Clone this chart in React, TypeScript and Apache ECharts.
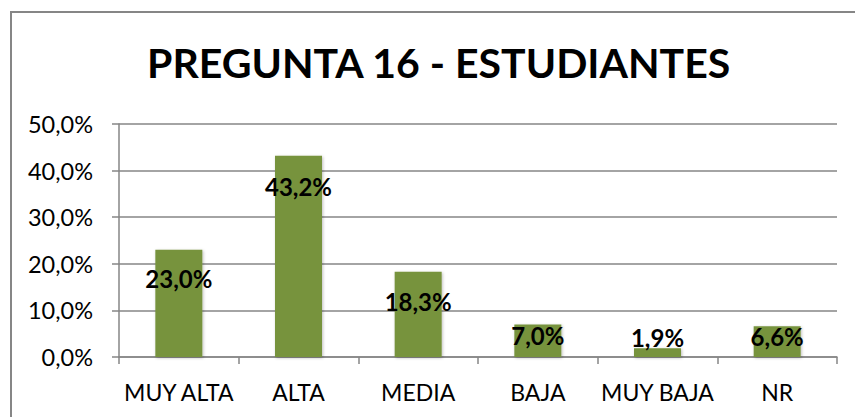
import React, { useEffect, useRef } from "react";
import * as echarts from "echarts";

const title = "PREGUNTA 16 - ESTUDIANTES";
const categories = ["MUY ALTA", "ALTA", "MEDIA", "BAJA", "MUY BAJA", "NR"];
const values = [23.0, 43.2, 18.3, 7.0, 1.9, 6.6];
// vertical placement of each data label relative to its bar's top (px)
const labelOffsets = [29, 31, 29.5, 11.5, -10.5, 10.5];

const FONT = "Lato, 'Open Sans', 'Noto Sans', sans-serif";
const fmt = (v: number) => v.toFixed(1).replace(".", ",") + "%";

export default function App() {
  const ref = useRef<HTMLDivElement>(null);
  useEffect(() => {
    if (!ref.current) return;
    const chart = echarts.init(ref.current, undefined, { renderer: "svg" });
    chart.setOption({
      animation: false,
      backgroundColor: "#ffffff",
      graphic: [
        {
          type: "rect",
          shape: { x: 11, y: 12, width: 900, height: 420 },
          style: { fill: "none", stroke: "#868686", lineWidth: 2 },
          silent: true,
        },
      ],
      title: {
        text: title,
        left: 142,
        top: 37,
        textStyle: { fontFamily: FONT, fontWeight: "bold", fontSize: 41, color: "#000" },
      },
      grid: { left: 119, right: 18, top: 124, bottom: 60 },
      xAxis: {
        type: "category",
        data: categories,
        axisLine: { lineStyle: { color: "#868686", width: 1.5 } },
        axisTick: { show: true, length: 7, lineStyle: { color: "#868686", width: 1.5 } },
        axisLabel: { fontFamily: FONT, fontSize: 23, color: "#000", margin: 23, interval: 0 },
      },
      yAxis: {
        type: "value",
        min: 0,
        max: 50,
        interval: 10,
        axisLine: { show: true, lineStyle: { color: "#868686", width: 1.5 } },
        axisTick: { show: true, length: 7, lineStyle: { color: "#868686", width: 1.5 } },
        splitLine: { lineStyle: { color: "#868686", width: 1.5 } },
        axisLabel: { fontFamily: FONT, fontSize: 23.5, color: "#000", margin: 26, formatter: fmt },
      },
      series: [
        {
          type: "bar",
          barWidth: 47,
          itemStyle: { color: "#77933C", shadowColor: "rgba(0,0,0,0.25)", shadowBlur: 3, shadowOffsetX: 1, shadowOffsetY: 1 },
          data: values.map((v, i) => ({
            value: v,
            label: { position: ["50%", labelOffsets[i]] },
          })),
          label: {
            show: true,
            align: "center",
            verticalAlign: "middle",
            fontFamily: FONT,
            fontWeight: "bold",
            fontSize: 24,
            color: "#000",
            formatter: (p: any) => fmt(p.value),
          },
        },
      ],
    });
    return () => chart.dispose();
  }, []);
  return (
    <div
      ref={ref}
      style={{ position: "fixed", left: 0, top: 0, width: 855, height: 417 }}
    />
  );
}
